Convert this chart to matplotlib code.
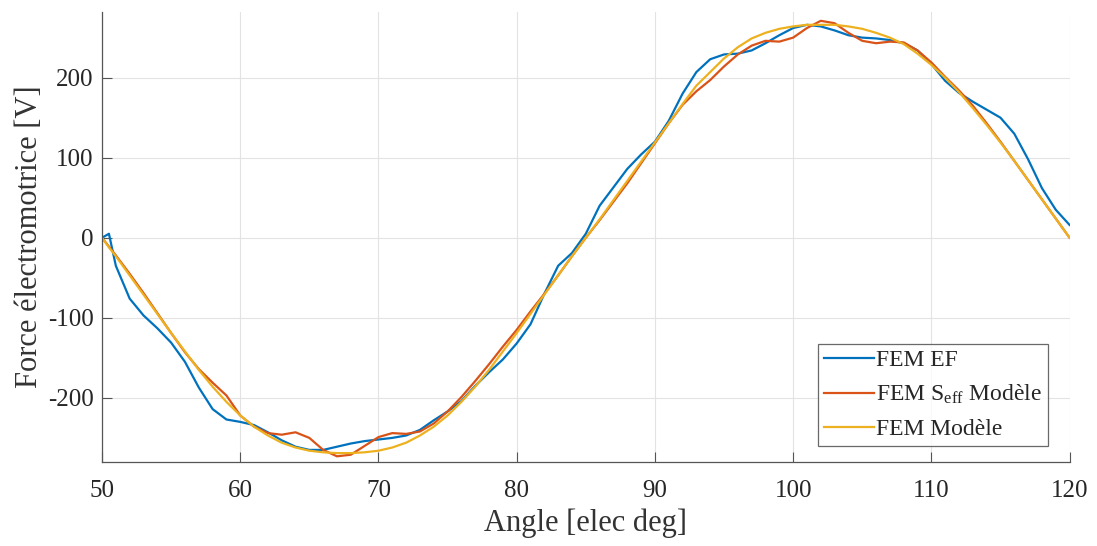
#!/usr/bin/env python
# -*- coding: utf-8 -*-
import matplotlib
matplotlib.use('Agg')
import matplotlib.pyplot as plt

# angle en degres electriques
angle = [50, 50.5] + list(range(51, 121))

# FEM calculee par elements finis
fem_ef = [0, 5, -35, -76, -97, -113, -131, -155, -187, -214, -227, -230,
          -234, -243, -253, -261, -265, -265, -261, -257, -254, -252, -250,
          -247, -240, -228, -217, -204, -185, -168, -152, -132, -108, -70,
          -35, -19, 5, 40, 63, 86, 104, 120, 146, 180, 207, 223, 229, 230,
          234, 243, 253, 262, 266, 264, 259, 253, 250, 249, 247, 243, 234,
          217, 196, 181, 170, 160, 150, 130, 98, 62, 35, 16]

# FEM modele avec S_eff
fem_seff = [0, -11, -22, -45, -69, -94, -119, -143, -164, -181, -197, -222,
            -236, -244, -246, -243, -250, -265, -273, -271, -260, -249, -244,
            -245, -242, -232, -217, -199, -179, -158, -136, -115, -92, -70,
            -47, -23, 0, 22, 45, 68, 93, 118, 143, 166, 183, 197, 214, 229,
            240, 246, 245, 250, 262, 271, 268, 256, 246, 243, 245, 244, 234,
            219, 201, 184, 165, 143, 120, 96, 72, 48, 24, 0]

# FEM modele
fem_model = [0, -12, -23, -47, -71, -95, -119, -142, -165, -186, -205, -222,
             -236, -247, -256, -262, -266, -268, -269, -269, -268, -266, -262,
             -256, -247, -236, -222, -205, -186, -165, -142, -119, -95, -71,
             -47, -23, 0, 23, 47, 71, 95, 119, 143, 167, 190, 207, 224, 238,
             249, 256, 261, 264, 266, 266, 266, 264, 261, 256, 250, 242, 230,
             216, 200, 182, 162, 141, 119, 96, 72, 48, 24, 0]

labels = ['FEM EF', 'FEM S$_{\\mathrm{eff}}$ Modèle', 'FEM Modèle']
colors = ['#0072BD', '#D95319', '#EDB120']

x_ticks = [50, 60, 70, 80, 90, 100, 110, 120]
y_ticks = [-200, -100, 0, 100, 200]


def plot_fem(out_file='out.png'):
    plt.rcParams['font.family'] = ['Liberation Serif', 'DejaVu Serif']
    plt.rcParams['mathtext.fontset'] = 'custom'
    plt.rcParams['mathtext.rm'] = 'Liberation Serif'
    plt.rcParams['mathtext.it'] = 'Liberation Serif:italic'
    plt.rcParams['axes.unicode_minus'] = False

    fig = plt.figure(figsize=(10.97, 5.46), dpi=100)
    ax = fig.add_axes([0.093, 0.154, 0.882, 0.824])

    for serie, label, color in zip([fem_ef, fem_seff, fem_model], labels, colors):
        ax.plot(angle, serie, color=color, linewidth=1.6, label=label)

    ax.set_xlim(50, 120)
    ax.set_ylim(-280, 282)
    ax.set_xticks(x_ticks)
    ax.set_yticks(y_ticks)
    ax.grid(True, color='#e3e3e3', linewidth=0.8)
    ax.set_axisbelow(True)

    for side in ['top', 'right']:
        ax.spines[side].set_visible(False)
    for side in ['left', 'bottom']:
        ax.spines[side].set_color('#555555')
        ax.spines[side].set_linewidth(0.9)

    ax.tick_params(direction='in', length=7, width=0.8, color='#555555',
                   labelsize=18, labelcolor='#262626')
    ax.tick_params(axis='x', pad=13)
    ax.tick_params(axis='y', pad=6)

    ax.set_xlabel('Angle [elec deg]', fontsize=22, color='#333333', labelpad=5)
    ax.set_ylabel('Force électromotrice [V]', fontsize=22, color='#333333', labelpad=3)

    leg = ax.legend(loc='lower right', fontsize=17, frameon=True, fancybox=False,
                    handlelength=2.1, handletextpad=0.1, borderpad=0.25,
                    labelspacing=0.5, borderaxespad=0.0,
                    bbox_to_anchor=(0.9775, 0.036))
    leg.get_frame().set_edgecolor('#444444')
    leg.get_frame().set_linewidth(0.9)
    for text in leg.get_texts():
        text.set_color('#262626')

    fig.savefig(out_file, dpi=100)
    plt.close(fig)
    print('>>> :{}'.format(out_file))


if __name__ == '__main__':
    plot_fem()
